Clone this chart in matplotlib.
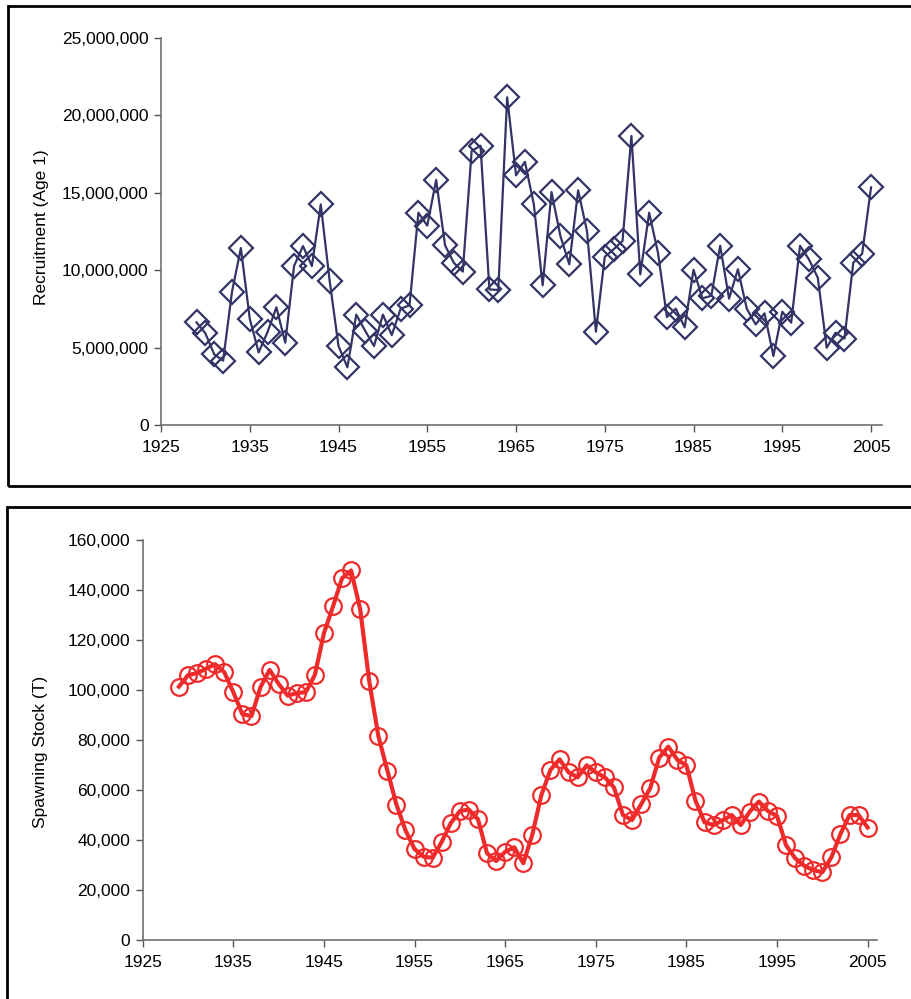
import matplotlib
matplotlib.use('Agg')
import matplotlib.pyplot as plt
from matplotlib.patches import Rectangle
from matplotlib.ticker import FuncFormatter

plt.rcParams['font.family'] = ['Liberation Sans', 'DejaVu Sans']

# Years of the series
years = list(range(1929, 2006))

# Recruitment (Age 1), millions
recruitment = [
    6.63, 5.92, 4.56, 4.16, 8.61, 11.43, 6.87, 4.69, 6.00, 7.60,
    5.32, 10.29, 11.56, 10.27, 14.25, 9.32, 5.10, 3.73, 7.13, 6.09,
    5.10, 7.13, 5.81, 7.51, 7.73, 13.71, 12.88, 15.83, 11.61, 10.47,
    9.91, 17.70, 18.04, 8.76, 8.72, 21.17, 16.13, 17.00, 14.28, 9.02,
    15.05, 12.21, 10.38, 15.16, 12.51, 6.03, 10.87, 11.35, 11.89, 18.67,
    9.73, 13.71, 11.11, 6.98, 7.51, 6.31, 10.03, 8.18, 8.35, 11.58,
    8.16, 10.06, 7.51, 6.50, 7.21, 4.46, 7.32, 6.61, 11.58, 10.70,
    9.52, 4.99, 5.96, 5.58, 10.49, 11.07, 15.35,
]
recruitment = [v * 1e6 for v in recruitment]

# Spawning stock (T), thousands
spawning = [
    101.3, 105.9, 106.7, 108.5, 110.3, 107.1, 99.1, 90.3, 89.5, 101.1,
    108.0, 102.4, 97.7, 98.7, 99.1, 106.0, 122.7, 133.4, 144.7, 147.8,
    132.3, 103.5, 81.6, 67.7, 54.1, 43.8, 36.3, 33.2, 32.8, 39.2,
    46.7, 51.5, 52.1, 48.2, 34.6, 31.5, 35.2, 37.0, 30.6, 42.1,
    58.0, 68.0, 72.2, 67.0, 65.0, 69.8, 67.0, 65.0, 61.0, 49.9,
    47.9, 54.2, 60.6, 72.9, 77.3, 72.0, 69.8, 55.7, 47.0, 45.9,
    47.8, 49.9, 45.9, 51.3, 55.3, 51.5, 49.5, 37.8, 32.6, 29.6,
    27.9, 27.0, 33.0, 42.3, 49.9, 49.9, 44.9,
]
spawning = [v * 1000 for v in spawning]

xticks = list(range(1925, 2006, 10))

fig = plt.figure(figsize=(9.11, 9.99), dpi=100)

# Frames around each chart
fig.patches.append(Rectangle((8 / 911, 1 - 486 / 999), 0.999, (486 - 6) / 999,
                             transform=fig.transFigure, fill=False,
                             edgecolor='black', linewidth=2))
fig.patches.append(Rectangle((7 / 911, -0.01), 0.999, 1 - 507 / 999 + 0.01,
                             transform=fig.transFigure, fill=False,
                             edgecolor='black', linewidth=2))

comma = FuncFormatter(lambda v, p: f'{int(v):,}')


def style_axes(ax):
    for s in ['top', 'right']:
        ax.spines[s].set_visible(False)
    for s in ['left', 'bottom']:
        ax.spines[s].set_color('#6f6f6f')
        ax.spines[s].set_linewidth(1.2)
    ax.tick_params(direction='out', length=5, width=1, color='#555555',
                   labelsize=12.5, labelcolor='black')
    ax.tick_params(axis='x', pad=6)
    ax.tick_params(axis='y', pad=4)
    ax.set_xticks(xticks)
    ax.yaxis.set_major_formatter(comma)


# Top chart: recruitment
ax1 = fig.add_axes([161 / 911, 1 - 425 / 999, (881.7 - 161) / 911, (425 - 38) / 999])
ax1.plot(years, recruitment, color='#333366', linewidth=1.6,
         marker='D', markersize=12.5, markerfacecolor='none',
         markeredgecolor='#333366', markeredgewidth=1.6, clip_on=False)
ax1.set_xlim(1925, 2006.2)
ax1.set_ylim(0, 25e6)
ax1.set_yticks(range(0, 25000001, 5000000))
style_axes(ax1)
ax1.set_ylabel('Recruitment (Age 1)', fontsize=12.5)
ax1.yaxis.set_label_coords(-0.155, 0.51)

# Bottom chart: spawning stock
ax2 = fig.add_axes([142.7 / 911, 1 - 939.7 / 999, (876.7 - 142.7) / 911, (939.7 - 540) / 999])
ax2.plot(years, spawning, color='#EE2A2A', linewidth=3,
         marker='o', markersize=12, markerfacecolor='none',
         markeredgecolor='#EE2A2A', markeredgewidth=1.6, clip_on=False)
ax2.set_xlim(1925, 2006)
ax2.set_ylim(0, 160000)
ax2.set_yticks(range(0, 160001, 20000))
style_axes(ax2)
ax2.set_ylabel('Spawning Stock (T)', fontsize=12.5)
ax2.yaxis.set_label_coords(-0.129, 0.47)

fig.savefig('out.png', dpi=100)
